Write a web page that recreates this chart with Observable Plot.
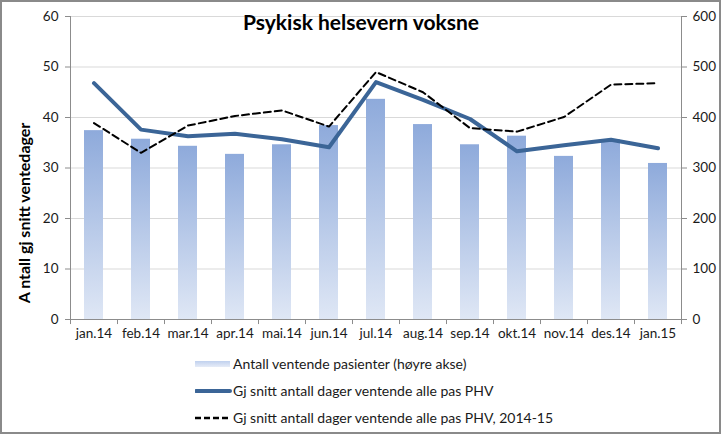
<!DOCTYPE html>
<html>
<head>
<meta charset="utf-8">
<script src="https://cdn.jsdelivr.net/npm/d3@7"></script>
<script src="https://cdn.jsdelivr.net/npm/@observablehq/plot@0.6"></script>
<style>
  html, body { margin: 0; padding: 0; background: #fff; }
  #page { position: relative; width: 721px; height: 434px; overflow: hidden; font-family: Lato, "Open Sans", sans-serif; color: #1a1a1a; }
  #frame { position: absolute; left: 0; top: 0; width: 721px; height: 434px; box-sizing: border-box; border: 2px solid #8a8a8a; pointer-events: none; }
  #chart { position: absolute; left: 0; top: 0; }
  #legend { position: absolute; left: 195px; top: 350px; font-size: 14px; }
  .row { display: flex; align-items: center; height: 27px; }
  .row svg { margin-right: 1px; }
</style>
</head>
<body>
<div id="page">
  <div id="chart"></div>
  <div id="legend"></div>
  <div id="frame"></div>
</div>
<script>
const title = "Psykisk helsevern voksne";
const yLabel = "A ntall gj snitt ventedager";
const months = ["jan.14","feb.14","mar.14","apr.14","mai.14","jun.14","jul.14","aug.14","sep.14","okt.14","nov.14","des.14","jan.15"];
const patients = [374, 357, 343, 327, 346, 384, 436, 386, 346, 363, 323, 356, 309];
const avgDays = [46.8, 37.6, 36.3, 36.8, 35.7, 34.1, 47.0, 43.5, 39.7, 33.3, 34.5, 35.6, 33.9];
const avgDays1415 = [38.9, 33.0, 38.4, 40.3, 41.4, 38.2, 49.0, 45.0, 37.9, 37.2, 40.1, 46.5, 46.8];
const leftTicks = [0, 10, 20, 30, 40, 50, 60];
const rightTicks = [0, 100, 200, 300, 400, 500, 600];
const seriesNames = ["Antall ventende pasienter (høyre akse)", "Gj snitt antall dager ventende alle pas PHV", "Gj snitt antall dager ventende alle pas PHV, 2014-15"];

const ratio = 10; // right axis / left axis
const data = months.map((m, i) => ({month: m, patients: patients[i], avg: avgDays[i], avg1415: avgDays1415[i]}));

const W = 721, H = 345, mL = 70, mR = 40, mT = 16, mB = 26;
const step = (W - mL - mR) / months.length;
const gridColor = "#d9d9d9", axisColor = "#8c8c8c";
const blue = "#3b6597";

const chart = Plot.plot({
  width: W, height: H,
  marginLeft: mL, marginRight: mR, marginTop: mT, marginBottom: mB,
  style: {fontFamily: "Lato, 'Open Sans', sans-serif", fontSize: "13.5px", color: "#1a1a1a", background: "transparent", overflow: "visible"},
  x: {domain: months, paddingInner: 0.6, paddingOuter: 0.3, align: 0.5},
  y: {domain: [0, 60]},
  marks: [
    Plot.gridY(leftTicks, {stroke: gridColor, strokeOpacity: 1, strokeWidth: 1.2}),
    Plot.barY(data, {x: "month", y: d => d.patients / ratio, fill: "url(#barGrad)"}),
    Plot.line(data, {x: "month", y: "avg", stroke: blue, strokeWidth: 4, strokeLinejoin: "round"}),
    Plot.line(data, {x: "month", y: "avg1415", stroke: "#000", strokeWidth: 2, strokeDasharray: "7,4"}),
    // axis lines
    Plot.ruleY([0], {stroke: axisColor}),
    Plot.ruleX([months[0]], {y1: 0, y2: 60, dx: -step / 2, stroke: axisColor}),
    Plot.ruleX([months[months.length - 1]], {y1: 0, y2: 60, dx: step / 2, stroke: axisColor}),
    // category boundary ticks
    Plot.ruleX(months, {y1: 0, y2: -1, dx: -step / 2, stroke: axisColor}),
    Plot.ruleX([months[months.length - 1]], {y1: 0, y2: -1, dx: step / 2, stroke: axisColor}),
    Plot.axisX({tickSize: 0, tickPadding: 9, label: null, fontSize: 13.5}),
    Plot.axisY(leftTicks, {anchor: "left", tickSize: 5, tickPadding: 7, stroke: axisColor, label: null, fontSize: 13.5}),
    Plot.axisY(rightTicks.map(v => v / ratio), {anchor: "right", tickSize: 5, tickPadding: 6, stroke: axisColor, label: null, tickFormat: d => String(Math.round(d * ratio)), fontSize: 13.5}),
    Plot.text([title], {frameAnchor: "top", dx: -15, dy: -1, fontSize: 21, fontWeight: "bold", fill: "#000"}),
    Plot.text([yLabel], {frameAnchor: "left", rotate: -90, dx: -46, dy: 45, fontSize: 16, fontWeight: "bold", fill: "#000", textAnchor: "middle"})
  ]
});

// gradient for bars
const ns = "http://www.w3.org/2000/svg";
function addGrad(svg, id) {
  const defs = document.createElementNS(ns, "defs");
  const g = document.createElementNS(ns, "linearGradient");
  g.setAttribute("id", id);
  g.setAttribute("x1", "0"); g.setAttribute("y1", "0"); g.setAttribute("x2", "0"); g.setAttribute("y2", "1");
  [["0%", "#8eaadb"], ["100%", "#dfe7f5"]].forEach(([o, c]) => {
    const s = document.createElementNS(ns, "stop");
    s.setAttribute("offset", o); s.setAttribute("stop-color", c);
    g.appendChild(s);
  });
  defs.appendChild(g);
  svg.insertBefore(defs, svg.firstChild);
}
addGrad(chart, "barGrad");
document.getElementById("chart").appendChild(chart);

// legend
const legend = document.getElementById("legend");
const swatches = [
  `<svg width="37" height="10"><defs><linearGradient id="lgGrad" x1="0" y1="0" x2="0" y2="1"><stop offset="0%" stop-color="#c0d1ee"/><stop offset="100%" stop-color="#e6ecf7"/></linearGradient></defs><rect x="0" y="2" width="35" height="6" fill="url(#lgGrad)"/></svg>`,
  `<svg width="37" height="10"><line x1="1" y1="5" x2="35" y2="5" stroke="${blue}" stroke-width="4" stroke-linecap="round"/></svg>`,
  `<svg width="37" height="10"><line x1="0" y1="5" x2="36" y2="5" stroke="#000" stroke-width="2.5" stroke-dasharray="6,3"/></svg>`
];
seriesNames.forEach((name, i) => {
  const row = document.createElement("div");
  row.className = "row";
  row.innerHTML = swatches[i] + `<span>${name}</span>`;
  legend.appendChild(row);
});
</script>
</body>
</html>
